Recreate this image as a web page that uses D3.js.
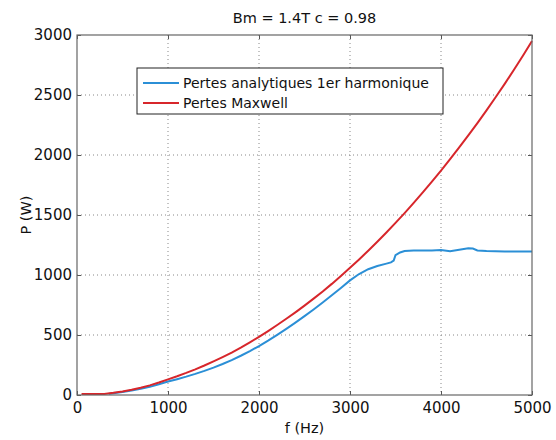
<!DOCTYPE html>
<html><head><meta charset="utf-8">
<script src="https://cdn.jsdelivr.net/npm/d3@7"></script>
<style>body{margin:0;background:#fff}svg{display:block}text{font-family:"DejaVu Sans",sans-serif;fill:#111}</style>
</head><body><svg id="c" width="556" height="440"></svg>
<script>
const title = "Bm = 1.4T c = 0.98";
const xLabel = "f (Hz)";
const yLabel = "P (W)";
const seriesNames = ["Pertes analytiques 1er harmonique", "Pertes Maxwell"];
const xTicks = [0, 1000, 2000, 3000, 4000, 5000];
const yTicks = [0, 500, 1000, 1500, 2000, 2500, 3000];

const maxwellF = [50,100,200,300,400,500,600,700,800,900,1000,1100,1200,1300,1400,1500,1600,1700,1800,1900,2000,2100,2200,2300,2400,2500,2600,2700,2800,2900,3000,3100,3200,3300,3400,3500,3600,3700,3800,3900,4000,4100,4200,4300,4400,4500,4600,4700,4800,4900,5000];
const maxwellP = [8,8,8,9,18,30,44,60,80,104,130,156,184,214,246,280,316,354,395,439,485,533,583,635,689,745,803,863,926,992,1060,1130,1202,1277,1354,1434,1516,1601,1688,1778,1870,1965,2063,2163,2266,2372,2481,2593,2708,2827,2950];

const analytF = [350,400,500,600,700,800,900,1000,1100,1200,1300,1400,1500,1600,1700,1800,1900,2000,2100,2200,2300,2400,2500,2600,2700,2800,2900,3000,3100,3200,3300,3400,3450,3480,3500,3550,3600,3700,3800,3900,4000,4100,4200,4300,4350,4400,4500,4600,4700,4800,4900,5000];
const analytP = [10,14,25,37,51,68,89,112,132,153,176,201,228,258,291,327,366,408,453,501,551,603,657,713,771,831,892,955,1008,1048,1075,1095,1105,1120,1165,1188,1200,1205,1205,1205,1208,1198,1210,1222,1220,1205,1200,1198,1196,1196,1196,1196];

const colors = ["#2b8fd6", "#d7262b"];

const m = {left:77, right:532, top:35, bottom:395};
const svg = d3.select("#c");
const x = d3.scaleLinear().domain([0,5000]).range([m.left, m.right]);
const y = d3.scaleLinear().domain([0,3000]).range([m.bottom, m.top]);

// grid
const g = svg.append("g");
g.selectAll(".gx").data(xTicks.slice(1,-1)).enter().append("line")
  .attr("x1",d=>x(d)).attr("x2",d=>x(d)).attr("y1",m.top).attr("y2",m.bottom)
  .attr("stroke","#888").attr("stroke-width",1).attr("stroke-dasharray","1,3");
g.selectAll(".gy").data(yTicks.slice(1,-1)).enter().append("line")
  .attr("y1",d=>y(d)).attr("y2",d=>y(d)).attr("x1",m.left).attr("x2",m.right)
  .attr("stroke","#888").attr("stroke-width",1).attr("stroke-dasharray","1,3");

// lines
const line = d3.line().x(d=>x(d[0])).y(d=>y(d[1]));
const analyt = analytF.map((f,i)=>[f, analytP[i]]);
const maxwell = maxwellF.map((f,i)=>[f, maxwellP[i]]);
svg.append("path").datum(analyt).attr("d",line).attr("fill","none").attr("stroke",colors[0]).attr("stroke-width",2);
svg.append("path").datum(maxwell).attr("d",line).attr("fill","none").attr("stroke",colors[1]).attr("stroke-width",2);

// axes
const fs = 15;
const xa = svg.append("g").attr("transform",`translate(0,${m.bottom})`)
  .call(d3.axisBottom(x).tickValues(xTicks).tickSize(-4).tickPadding(7).tickFormat(d3.format("d")));
const xaTop = svg.append("g").attr("transform",`translate(0,${m.top})`)
  .call(d3.axisTop(x).tickValues(xTicks).tickSize(-4).tickFormat(""));
const ya = svg.append("g").attr("transform",`translate(${m.left},0)`)
  .call(d3.axisLeft(y).tickValues(yTicks).tickSize(-4).tickPadding(5).tickFormat(d3.format("d")));
const yaR = svg.append("g").attr("transform",`translate(${m.right},0)`)
  .call(d3.axisRight(y).tickValues(yTicks).tickSize(-4).tickFormat(""));
[xa,xaTop,ya,yaR].forEach(a=>{
  a.select(".domain").remove();
  a.selectAll(".tick line").attr("stroke","#555");
  a.selectAll("text").style("font-size",fs+"px").attr("fill","#111");
});
svg.append("rect").attr("x",m.left).attr("y",m.top).attr("width",m.right-m.left).attr("height",m.bottom-m.top)
  .attr("fill","none").attr("stroke","#666").attr("stroke-width",1.2);

// labels
svg.append("text").attr("x",(m.left+m.right)/2).attr("y",23).attr("text-anchor","middle").style("font-size","14.5px").text(title);
svg.append("text").attr("x",(m.left+m.right)/2).attr("y",433).attr("text-anchor","middle").style("font-size","14.5px").text(xLabel);
svg.append("text").attr("transform",`translate(31,${(m.top+m.bottom)/2}) rotate(-90)`).attr("text-anchor","middle").style("font-size","14.5px").text(yLabel);

// legend
const lg = svg.append("g");
lg.append("rect").attr("x",137).attr("y",68).attr("width",306).attr("height",46).attr("fill","#fff").attr("stroke","#222").attr("stroke-width",1);
seriesNames.forEach((n,i)=>{
  const yy = 83 + i*20;
  lg.append("line").attr("x1",143).attr("x2",179).attr("y1",yy).attr("y2",yy).attr("stroke",colors[i]).attr("stroke-width",2);
  lg.append("text").attr("x",183).attr("y",yy+5).style("font-size","14px").text(n);
});
</script></body></html>
